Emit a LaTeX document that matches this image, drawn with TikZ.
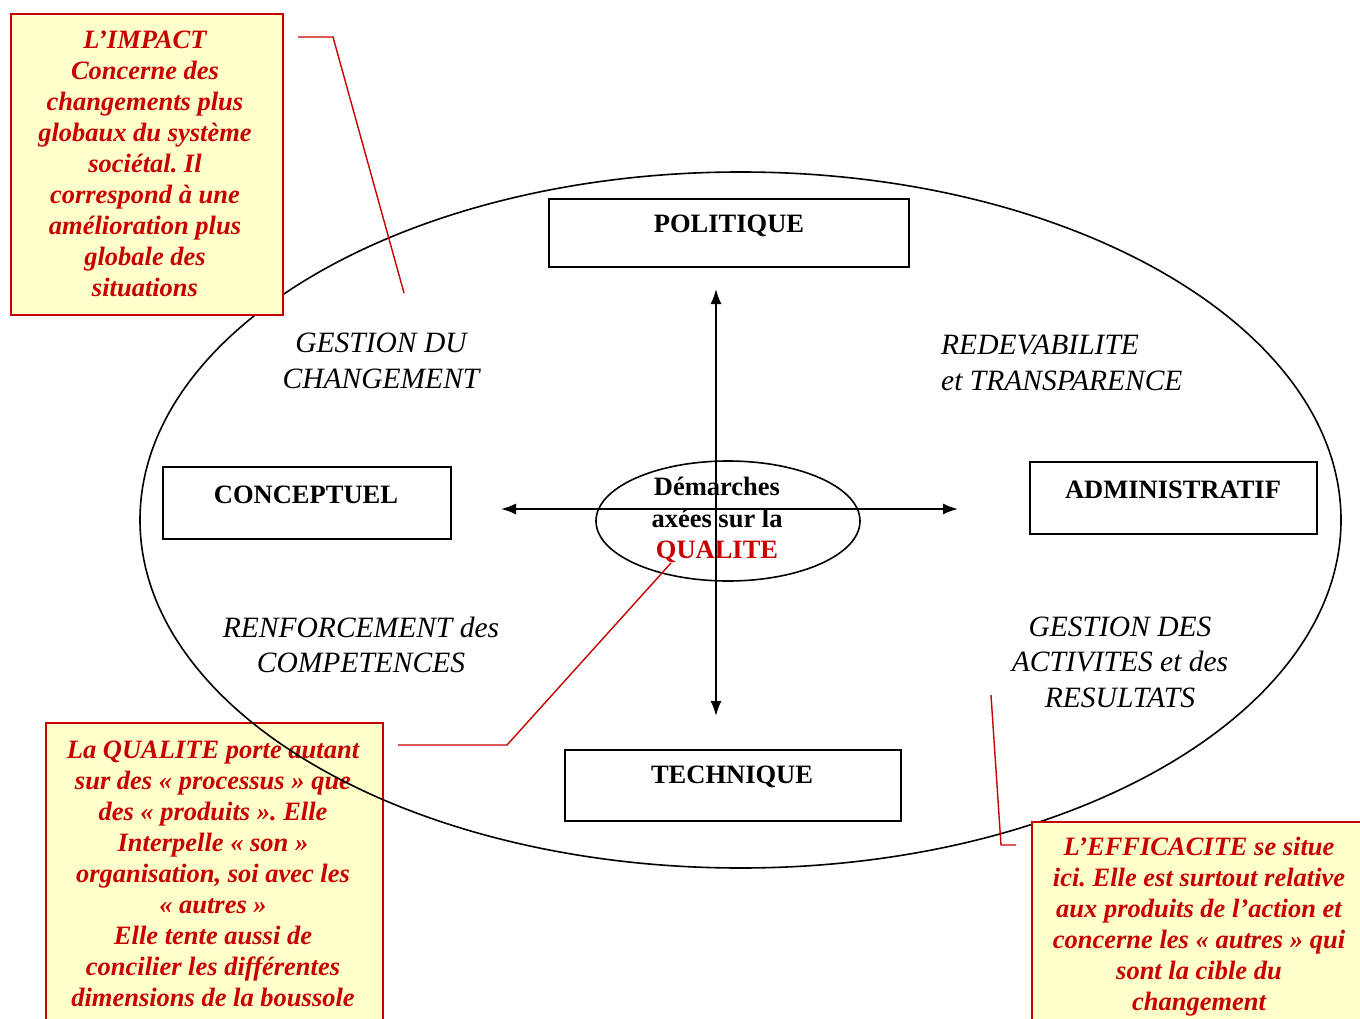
\documentclass[tikz,border=0pt]{standalone}
\usepackage{fontspec}
\setmainfont{Liberation Serif}
\frenchspacing
\usetikzlibrary{arrows.meta,shapes.geometric}
\definecolor{dred}{RGB}{200,0,0}
\definecolor{lyel}{RGB}{255,255,204}
\tikzset{
  bbox/.style={draw=black,line width=1.6pt,rectangle,inner sep=0pt},
  bbtext/.style={font=\fontsize{26.5}{31}\selectfont\bfseries,inner sep=0pt},
  ylbox/.style={draw=dred,fill=lyel,line width=1.6pt,rectangle,inner sep=0pt},
  ytext/.style={font=\fontsize{26.5}{31}\selectfont\bfseries\itshape,text=dred,align=center,inner sep=0pt},
  itlab/.style={font=\fontsize{29.5}{35.5}\selectfont\itshape,inner sep=0pt},
  redline/.style={draw=dred,line width=1.4pt},
  axis/.style={draw=black,line width=1.8pt,{Latex[length=15pt,width=11pt]}-{Latex[length=15pt,width=11pt]}}
}
\begin{document}
\begin{tikzpicture}[x=1pt,y=-1pt]
\useasboundingbox (0,0) rectangle (1360,1019);
% lower-left yellow box (under the big ellipse)
\node[ylbox,minimum width=337pt,minimum height=330pt,anchor=north west] (qbox) at (45,722) {};
\node[ytext] (qtext) at (213,874) {La QUALITE porte autant\\sur des « processus » que\\des « produits ». Elle\\Interpelle « son »\\organisation, soi avec les\\« autres »\\Elle tente aussi de\\concilier les différentes\\dimensions de la boussole};
% big ellipse
\node[draw=black,line width=1.6pt,ellipse,minimum width=1201pt,minimum height=696pt,inner sep=0pt] (big) at (740.5,520) {};
% upper-left yellow box (over the ellipse)
\node[ylbox,minimum width=272pt,minimum height=301pt,anchor=north west] (ibox) at (10,13) {};
\node[ytext] (itext) at (145,164) {L’IMPACT\\Concerne des\\changements plus\\globaux du système\\sociétal. Il\\correspond à une\\amélioration plus\\globale des\\situations};
% lower-right yellow box
\node[ylbox,minimum width=340pt,minimum height=220pt,anchor=north west] (ebox) at (1031,821) {};
\node[ytext] (etext) at (1199,927) {L’EFFICACITE se situe\\ici. Elle est surtout relative\\aux produits de l’action et\\concerne les « autres » qui\\sont la cible du\\changement};
% black boxes
\node[bbox,minimum width=360pt,minimum height=68pt,anchor=north west] (pol) at (548,198) {};
\node[bbtext] (poltext) at (729,226) {POLITIQUE};
\node[bbox,minimum width=288pt,minimum height=72pt,anchor=north west] (con) at (162,466) {};
\node[bbtext] (context) at (306,495) {CONCEPTUEL};
\node[bbox,minimum width=287pt,minimum height=72pt,anchor=north west] (adm) at (1029,461) {};
\node[bbtext] (admtext) at (1173,490) {ADMINISTRATIF};
\node[bbox,minimum width=336pt,minimum height=71pt,anchor=north west] (tec) at (564,749) {};
\node[bbtext] (tectext) at (732,777) {TECHNIQUE};
% italic labels
\node[itlab,align=center] (gc) at (381,361) {GESTION DU\\CHANGEMENT};
\node[itlab,align=left,anchor=west] (rt) at (941,363) {REDEVABILITE\\et TRANSPARENCE};
\node[itlab,align=center] (rc) at (361,645) {RENFORCEMENT des\\COMPETENCES};
\node[itlab,align=center] (ga) at (1120,662) {GESTION DES\\ACTIVITES et des\\RESULTATS};
% central ellipse
\node[draw=black,line width=1.6pt,ellipse,minimum width=264pt,minimum height=120pt,inner sep=0pt] (ctr) at (728,521) {};
\node[font=\fontsize{26.5}{31.5}\selectfont\bfseries,align=center,inner sep=0pt] (ctrtext) at (717,520) {Démarches\\axées sur la\\\textcolor{dred}{QUALITE}};
% axes
\coordinate (vt) at (716,289);
\coordinate (vb) at (716,716);
\coordinate (hl) at (501,509);
\coordinate (hr) at (958,509);
\draw[axis] (vt) -- (vb);
\draw[axis] (hl) -- (hr);
% red leader lines
\coordinate (i1) at (298,37);
\coordinate (i2) at (333,37);
\coordinate (i3) at (404,293);
\draw[redline] (i1) -- (i2) -- (i3);
\coordinate (q1) at (398,745);
\coordinate (q2) at (507,745);
\coordinate (q3) at (671,563);
\draw[redline] (q1) -- (q2) -- (q3);
\coordinate (e1) at (991,695);
\coordinate (e2) at (1001,845);
\coordinate (e3) at (1016,845);
\draw[redline] (e1) -- (e2) -- (e3);
\end{tikzpicture}
\end{document}
